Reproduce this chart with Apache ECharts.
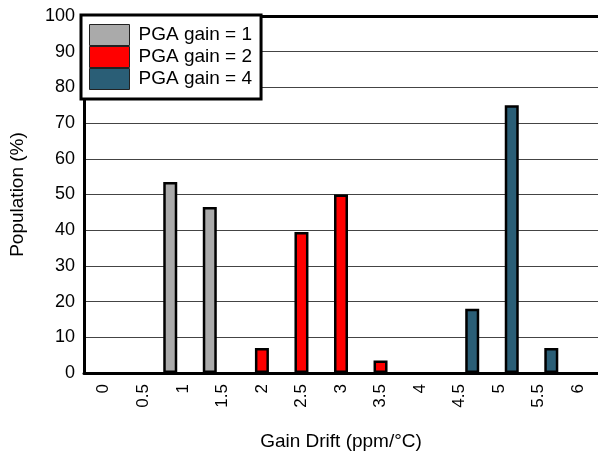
<!DOCTYPE html>
<html>
<head>
<meta charset="utf-8">
<script src="https://cdn.jsdelivr.net/npm/echarts@6/dist/echarts.min.js"></script>
<style>html,body{margin:0;padding:0;background:#fff;}#c{width:598px;height:460px;}</style>
</head>
<body>
<div id="c"></div>
<script>
var categories = ['0','0.5','1','1.5','2','2.5','3','3.5','4','4.5','5','5.5','6'];
var gain1 = [null, null, 53.5, 46.5, null, null, null, null, null, null, null, null, null];
var gain2 = [null, null, null, null, 7, 39.5, 50, 3.5, null, null, null, null, null];
var gain4 = [null, null, null, null, null, null, null, null, null, 18, 75, 7, null];
var seriesNames = ['PGA gain = 1', 'PGA gain = 2', 'PGA gain = 4'];
var yTicks = {min: 0, max: 100, interval: 10};

var FONT = 'Liberation Sans, Arial, sans-serif';
var chart = echarts.init(document.getElementById('c'), null, {renderer: 'canvas'});
function bar(name, data, color) {
  return {
    name: name, type: 'bar', data: data, barWidth: 14, barGap: '-10%',
    itemStyle: {color: color, borderColor: '#000', borderWidth: 2.5},
    emphasis: {disabled: true}, z: 3
  };
}
chart.setOption({
  animation: false,
  backgroundColor: '#fff',
  textStyle: {fontFamily: FONT, color: '#000'},
  grid: {left: 82, top: 16, width: 520, height: 357, containLabel: false},
  legend: {
    orient: 'vertical', left: 81, top: 15, icon: 'rect',
    itemWidth: 40, itemHeight: 21, itemGap: 0,
    padding: [9, 9, 9, 8],
    backgroundColor: '#fff', borderColor: '#000', borderWidth: 3,
    textStyle: {fontFamily: FONT, fontSize: 19, color: '#000', padding: [0, 0, 0, 4]},
    itemStyle: {borderColor: '#222', borderWidth: 1},
    data: seriesNames, z: 10
  },
  xAxis: [{
    type: 'category', data: categories, position: 'bottom',
    axisLine: {lineStyle: {color: '#000', width: 3}},
    axisTick: {inside: true, length: 10, lineStyle: {color: '#333', width: 1.5}},
    axisLabel: {rotate: 90, fontSize: 17, color: '#000', margin: 11, fontFamily: FONT},
    name: 'Gain Drift (ppm/°C)', nameLocation: 'middle', nameGap: 59,
    nameTextStyle: {fontSize: 19, color: '#000', fontFamily: FONT}
  }, {
    type: 'category', data: categories, position: 'top',
    axisLine: {lineStyle: {color: '#000', width: 3}},
    axisTick: {inside: true, length: 10, lineStyle: {color: '#333', width: 1.5}},
    axisLabel: {show: false}
  }],
  yAxis: {
    type: 'value', min: yTicks.min, max: yTicks.max, interval: yTicks.interval,
    axisLine: {show: true, lineStyle: {color: '#000', width: 3}},
    axisTick: {show: false},
    splitLine: {show: true, lineStyle: {color: '#444', width: 1}},
    axisLabel: {fontSize: 18, color: '#000', margin: 9, fontFamily: FONT},
    name: 'Population (%)', nameLocation: 'middle', nameGap: 57,
    nameTextStyle: {fontSize: 19, color: '#000', fontFamily: FONT}
  },
  series: [
    bar(seriesNames[0], gain1, '#AAAAAA'),
    bar(seriesNames[1], gain2, '#FF0000'),
    bar(seriesNames[2], gain4, '#2A5E76')
  ]
});
</script>
</body>
</html>
